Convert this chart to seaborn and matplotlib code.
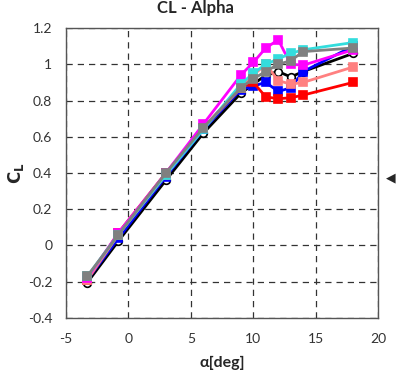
import matplotlib
matplotlib.use("Agg")
import matplotlib.pyplot as plt
import seaborn as sns
import pandas as pd

# Angle of attack [deg]
alpha = [-3.3, -0.8, 3, 6, 9, 10, 11, 12, 13, 14, 18]

# Lift coefficient for each configuration
cl_black = [-0.205, 0.025, 0.36, 0.62, 0.84, 0.89, 0.94, 0.96, 0.93, 0.96, 1.06]
cl_blue = [-0.19, 0.04, 0.38, 0.64, 0.86, 0.88, 0.90, 0.85, 0.87, 0.96, 1.10]
cl_red = [-0.19, 0.07, 0.40, 0.65, 0.87, 0.90, 0.82, 0.81, 0.815, 0.83, 0.90]
cl_salmon = [-0.19, 0.06, 0.39, 0.65, 0.87, 0.94, 1.00, 0.91, 0.89, 0.90, 0.985]
cl_magenta = [-0.18, 0.07, 0.40, 0.67, 0.94, 1.01, 1.09, 1.135, 1.00, 0.995, 1.08]
cl_cyan = [-0.17, 0.06, 0.39, 0.64, 0.89, 0.95, 1.00, 1.03, 1.06, 1.08, 1.12]
cl_gray = [-0.17, 0.06, 0.40, 0.65, 0.87, 0.92, 0.96, 1.00, 1.02, 1.07, 1.09]

x_ticks = [-5, 0, 5, 10, 15, 20]
y_ticks = [-0.4, -0.2, 0, 0.2, 0.4, 0.6, 0.8, 1, 1.2]
y_tick_labels = ["-0.4", "-0.2", "0", "0.2", "0.4", "0.6", "0.8", "1", "1.2"]

series = [
    ("black", cl_black, "black", "o", "white"),
    ("blue", cl_blue, "#0000FF", "s", "#0000FF"),
    ("red", cl_red, "#FF0000", "s", "#FF0000"),
    ("salmon", cl_salmon, "#FF8080", "s", "#FF8080"),
    ("magenta", cl_magenta, "#FF00FF", "s", "#FF00FF"),
    ("cyan", cl_cyan, "#33DDDD", "s", "#33DDDD"),
    ("gray", cl_gray, "#808080", "s", "#808080"),
]

sns.set_style("white")
plt.rcParams["font.family"] = ["Lato", "DejaVu Sans"]

fig = plt.figure(figsize=(3.98, 3.74), dpi=100)
ax = fig.add_axes([0.166, 0.150, 0.784, 0.775])

for name, values, color, marker, face in series:
    df = pd.DataFrame({"alpha": alpha, "CL": values})
    sns.lineplot(data=df, x="alpha", y="CL", ax=ax, color=color,
                 linewidth=2.0, marker=marker, markersize=6 if marker == "s" else 5.5,
                 markerfacecolor=face, markeredgecolor=color, markeredgewidth=1.2,
                 sort=False, legend=False)

ax.set_xlim(-5, 20)
ax.set_ylim(-0.4, 1.2)
ax.set_xticks(x_ticks)
ax.set_xticklabels([str(t) for t in x_ticks])
ax.set_yticks(y_ticks)
ax.set_yticklabels(y_tick_labels)
ax.tick_params(axis="x", length=0, labelsize=10, colors="#333333", pad=11)
ax.tick_params(axis="y", length=0, labelsize=10, colors="#333333", pad=10)
ax.grid(True, color="#333333", linestyle=(0, (5, 4)), linewidth=0.9)
ax.set_axisbelow(True)
for spine in ax.spines.values():
    spine.set_color("#555555")
    spine.set_linewidth(1.0)

ax.set_xlabel("α[deg]", fontsize=11.5, fontweight="bold", labelpad=8)
ax.set_ylabel("$\\mathbf{C_L}$", fontsize=12, fontweight="bold")
ax.yaxis.set_label_coords(-0.13, 0.5)

fig.text(0.49, 0.965, "CL - Alpha", ha="center", va="baseline",
         fontsize=12, fontweight="bold")
fig.text(0.982, 0.524, "◀", ha="center", va="center", fontsize=9,
         family=["DejaVu Sans"])

fig.savefig("out.png", dpi=100)
